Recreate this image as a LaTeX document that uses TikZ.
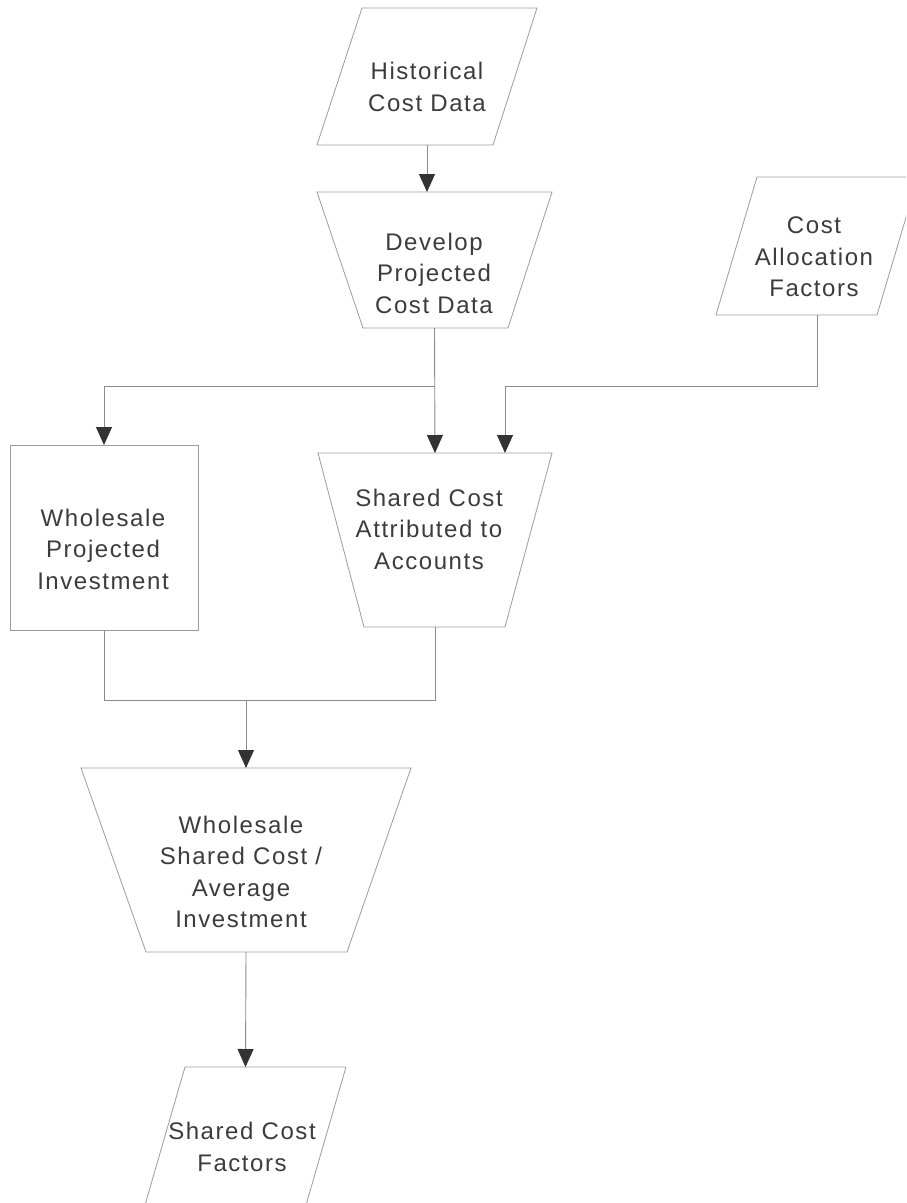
\documentclass[tikz,border=0pt]{standalone}
\usepackage{fontspec}
\setmainfont{Liberation Sans}[LetterSpace=6.5]
\usetikzlibrary{arrows.meta,calc}
\definecolor{shapeline}{HTML}{9C9C9C}
\definecolor{connline}{HTML}{8C8C8C}
\definecolor{tipcol}{HTML}{333333}
\definecolor{txtc}{HTML}{3C3C3C}
\tikzset{
  frame/.style={draw=none, inner sep=0pt, outer sep=0pt},
  outline/.style={draw=shapeline, line width=0.8pt, line join=miter},
  conn/.style={draw=connline, line width=0.9pt},
  arr/.style={conn, -{Triangle[width=16pt,length=18pt,color=tipcol]}},
  label/.style={font=\fontsize{24pt}{31.5pt}\selectfont, align=center, text=txtc, inner sep=0pt}
}
\begin{document}
\begin{tikzpicture}[x=1pt,y=-1pt]
\useasboundingbox[fill=white] (0,0) rectangle (906,1203);
\clip (0,0) rectangle (906,1203);
% shape frames
\node[frame, minimum width=220pt, minimum height=137pt] (hist) at (427,76.5) {};
\node[frame, minimum width=235pt, minimum height=136pt] (dev) at (434.5,260) {};
\node[frame, minimum width=202pt, minimum height=138pt] (caf) at (817,246) {};
\node[frame, outline, minimum width=188pt, minimum height=185pt] (wpi) at (104,537.5) {};
\node[frame, minimum width=234pt, minimum height=174pt] (sca) at (435,540) {};
\node[frame, minimum width=330pt, minimum height=184pt] (wsc) at (246,860) {};
\node[frame, minimum width=201pt, minimum height=138pt] (scf) at (245.5,1136) {};
% outlines
\draw[outline] ($(hist.north west)+(45,0)$) -- (hist.north east) -- ($(hist.south east)+(-44,0)$) -- (hist.south west) -- cycle;
\draw[outline] (dev.north west) -- (dev.north east) -- ($(dev.south east)+(-44,0)$) -- ($(dev.south west)+(46,0)$) -- cycle;
\draw[outline] ($(caf.north west)+(41,0)$) -- (caf.north east) -- ($(caf.south east)+(-41,0)$) -- (caf.south west) -- cycle;
\draw[outline] (sca.north west) -- (sca.north east) -- ($(sca.south east)+(-47,0)$) -- ($(sca.south west)+(46,0)$) -- cycle;
\draw[outline] (wsc.north west) -- (wsc.north east) -- ($(wsc.south east)+(-64,0)$) -- ($(wsc.south west)+(65,0)$) -- cycle;
\draw[outline] ($(scf.north west)+(40,0)$) -- (scf.north east) -- ($(scf.south east)+(-40,0)$) -- (scf.south west) -- cycle;
% texts
\node[label] (histT) at (427,87) {Historical\\Cost Data};
\node[label] (devT) at (434,273) {Develop\\Projected\\Cost Data};
\node[label] (cafT) at (814,257) {Cost\\Allocation\\Factors};
\node[label] (wpiT) at (103,549) {Wholesale\\Projected\\Investment};
\node[label] (scaT) at (429,529) {Shared Cost\\Attributed to\\Accounts};
\node[label] (wscT) at (241,872) {Wholesale\\Shared Cost /\\Average\\Investment};
\node[label] (scfT) at (242,1147) {Shared Cost\\Factors};
% connectors
\draw[arr] (hist.south) -- (hist.south |- dev.north);
\coordinate (j1) at (dev.south |- 0,386);
\draw[arr] (dev.south) -- (sca.north);
\draw[arr] (j1) -| (wpi.north);
\coordinate (k1) at (caf.south |- 0,386);
\coordinate (scaIn) at ($(sca.north)+(70,0)$);
\draw[arr] (caf.south) -- (k1) -| (scaIn);
\coordinate (m1) at (wsc.north |- 0,700);
\draw[conn] (wpi.south) |- (m1) -| (sca.south);
\draw[arr] (m1) -- (wsc.north);
\draw[arr] (wsc.south) -- (scf.north);
\end{tikzpicture}
\end{document}
